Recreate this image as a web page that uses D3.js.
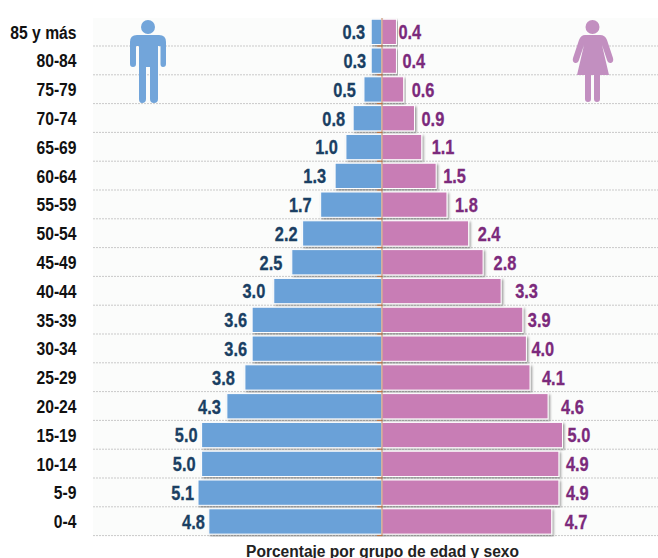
<!DOCTYPE html>
<html>
<head>
<meta charset="utf-8">
<script src="https://cdnjs.cloudflare.com/ajax/libs/d3/7.8.5/d3.min.js"></script>
<style>
  html, body { margin: 0; padding: 0; background: #fff; overflow: hidden; }
  svg { display: block; }
  text { font-family: "Liberation Sans", Arial, sans-serif; font-weight: bold; }
</style>
</head>
<body>
<svg id="chart" width="658" height="558"></svg>
<script>
const ageGroups = ["85 y más", "80-84", "75-79", "70-74", "65-69", "60-64", "55-59", "50-54", "45-49",
  "40-44", "35-39", "30-34", "25-29", "20-24", "15-19", "10-14", "5-9", "0-4"];
const maleValues = [0.3, 0.3, 0.5, 0.8, 1.0, 1.3, 1.7, 2.2, 2.5, 3.0, 3.6, 3.6, 3.8, 4.3, 5.0, 5.0, 5.1, 4.8];
const femaleValues = [0.4, 0.4, 0.6, 0.9, 1.1, 1.5, 1.8, 2.4, 2.8, 3.3, 3.9, 4.0, 4.1, 4.6, 5.0, 4.9, 4.9, 4.7];
// the labels in the original were hand placed, so the gap to the bar varies
const maleGaps = [6, 5, 8, 8, 8, 9, 9, 5, 9.5, 8.5, 5, 5, 10, 6, 4, 6, 4, 4];
const femaleGaps = [2, 6, 8, 7, 10, 7, 8, 9, 10.5, 14, 5, 5, 12, 13, 5, 7, 7, 13];

const svg = d3.select("#chart");
const axisX = 382;
const narrow = 0.82; // no Arial Narrow here, so squeeze the regular face

const xMale = d3.scaleLinear().domain([0, 5.1]).range([axisX, 198]);
const xFemale = d3.scaleLinear().domain([0, 5]).range([axisX, 562.5]);
const y = d3.scaleBand().domain(ageGroups).range([17.2, 535.6]);

const defs = svg.append("defs");
const shadow = defs.append("filter").attr("id", "barShadow")
  .attr("x", "-10%").attr("y", "-10%").attr("width", "120%").attr("height", "120%");
shadow.append("feDropShadow").attr("dx", 1.5).attr("dy", 1.5)
  .attr("stdDeviation", 0.8).attr("flood-color", "#000").attr("flood-opacity", 0.4);

// plot background
svg.append("rect")
  .attr("x", 93).attr("y", 18)
  .attr("width", 565).attr("height", 518)
  .attr("fill", "#fbfcfb");

// dashed row lines
svg.append("g").selectAll("line")
  .data(ageGroups)
  .join("line")
  .attr("x1", 93).attr("x2", 658)
  .attr("y1", d => y(d) + y.bandwidth())
  .attr("y2", d => y(d) + y.bandwidth())
  .attr("stroke", "#c9c9c9")
  .attr("stroke-width", 1)
  .attr("stroke-dasharray", "2,1");

// bars
svg.append("g").selectAll("rect")
  .data(ageGroups)
  .join("rect")
  .attr("x", (d, i) => xMale(maleValues[i]))
  .attr("y", d => y(d) + 2)
  .attr("width", (d, i) => axisX - xMale(maleValues[i]))
  .attr("height", y.bandwidth() - 3.5)
  .attr("fill", "#6aa1d8")
  .attr("stroke", "#fff")
  .attr("filter", "url(#barShadow)");

svg.append("g").selectAll("rect")
  .data(ageGroups)
  .join("rect")
  .attr("x", axisX)
  .attr("y", d => y(d) + 2)
  .attr("width", (d, i) => xFemale(femaleValues[i]) - axisX)
  .attr("height", y.bandwidth() - 3.5)
  .attr("fill", "#c87db5")
  .attr("stroke", "#fff")
  .attr("filter", "url(#barShadow)");

// axis line with its little ticks
svg.append("line")
  .attr("x1", axisX).attr("x2", axisX)
  .attr("y1", 18).attr("y2", 536)
  .attr("stroke", "#c07f5a").attr("stroke-width", 1);

svg.append("g").selectAll("line")
  .data(ageGroups)
  .join("line")
  .attr("x1", axisX - 5).attr("x2", axisX)
  .attr("y1", d => y(d) + y.bandwidth())
  .attr("y2", d => y(d) + y.bandwidth())
  .attr("stroke", "#c0703c");

// age labels
svg.append("g").selectAll("text")
  .data(ageGroups)
  .join("text")
  .attr("transform", d => `translate(76.5,${y(d) + y.bandwidth() / 2 + 7}) scale(0.87,1)`)
  .attr("text-anchor", "end")
  .attr("font-size", 18)
  .attr("fill", "#111")
  .text(d => d);

// value labels
svg.append("g").selectAll("text")
  .data(ageGroups)
  .join("text")
  .attr("transform", (d, i) => `translate(${xMale(maleValues[i]) - maleGaps[i]},${y(d) + y.bandwidth() / 2 + 7.5}) scale(${narrow},1)`)
  .attr("text-anchor", "end")
  .attr("font-size", 20)
  .attr("fill", "#1a3f63")
  .attr("stroke", "#1a3f63")
  .attr("stroke-width", 0.3)
  .text((d, i) => maleValues[i].toFixed(1));

svg.append("g").selectAll("text")
  .data(ageGroups)
  .join("text")
  .attr("transform", (d, i) => `translate(${xFemale(femaleValues[i]) + femaleGaps[i]},${y(d) + y.bandwidth() / 2 + 7.5}) scale(${narrow},1)`)
  .attr("font-size", 20)
  .attr("fill", "#7b2a7c")
  .attr("stroke", "#7b2a7c")
  .attr("stroke-width", 0.3)
  .text((d, i) => femaleValues[i].toFixed(1));

// title, cut by the bottom edge like the source image
svg.append("text")
  .attr("transform", "translate(382.5,556.5) scale(0.915,1)")
  .attr("text-anchor", "middle")
  .attr("font-size", 17)
  .attr("fill", "#222")
  .text("Porcentaje por grupo de edad y sexo");

// man icon
const man = svg.append("g").attr("fill", "#72a5da");
man.append("circle").attr("cx", 148).attr("cy", 27).attr("r", 7);
man.append("path").attr("d",
  "M137 35 H159 Q166 35 166 42 V64 Q166 67 163 67 Q160.5 67 160.5 64 V46 H158 V99 Q158 103 154 103 Q150 103 150 99 V67 H146 V99 Q146 103 142 103 Q139 103 139 99 V46 H136 V64 Q136 67 133 67 Q130 67 130 64 V42 Q130 35 137 35 Z");

// woman icon
const woman = svg.append("g").attr("fill", "#c28fc0");
woman.append("circle").attr("cx", 592.5).attr("cy", 27).attr("r", 7);
woman.append("path").attr("d",
  "M585 35 H600 Q605 35 607 40 L613 58 Q614 62 611 63 Q608 63.500 607 60 L602 45 L609 75 H577 L584 45 L579 60 Q578 63.500 575 63 Q572 62 573 58 L579 40 Q581 35 585 35 Z");
woman.append("path").attr("d",
  "M585 75 H591 V99 Q591 102 588 102 Q585 102 585 99 Z M594 75 H600 V99 Q600 102 597 102 Q594 102 594 99 Z");
</script>
</body>
</html>
